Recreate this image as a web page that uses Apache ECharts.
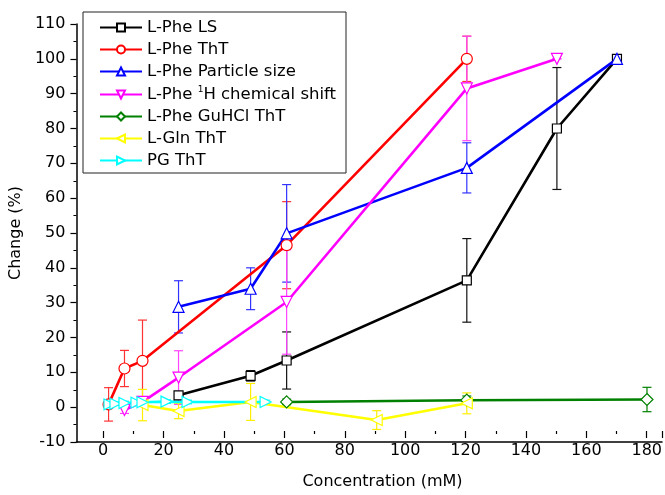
<!DOCTYPE html>
<html>
<head>
<meta charset="utf-8">
<script src="https://cdn.jsdelivr.net/npm/echarts@6/dist/echarts.min.js"></script>
<style>
  html, body { margin: 0; padding: 0; background: #fff; }
  #chart { width: 665px; height: 495px; }
</style>
</head>
<body>
<div id="chart"></div>
<script>
'use strict';

// [concentration mM, change %] and matching +/- errors
var lpheLS = [[24, 3.4], [48, 9.0], [60, 13.4], [120, 36.4], [150, 80.0], [170, 100]];
var lpheLSErr = [1.0, 1.5, 8.2, 12, 17.5, 0];

var lpheThT = [[0.7, 0.8], [6, 11.1], [12, 13.3], [60, 46.5], [120, 100]];
var lpheThTErr = [4.8, 5.2, 11.7, 12.5, 6.5];

var lpheSize = [[24, 28.8], [48, 34.0], [60, 49.9], [120, 68.7], [170, 100]];
var lpheSizeErr = [7.5, 6, 14, 7.2, 0];

var lpheShift = [[6, -0.8], [12, 1.5], [24, 8.5], [60, 30.2], [120, 91.5], [150, 100]];
var lpheShiftErr = [1, 1, 7.7, 15, 15, 0];

var guhclThT = [[60, 1.5], [120, 2.0], [180, 2.2]];
var guhclErr = [0.8, 1.2, 3.5];

var glnThT = [[12, 0.6], [24, -1.1], [48, 1.5], [90, -3.7], [120, 1.1]];
var glnErr = [4.5, 2.2, 5.3, 2.7, 3];

var pgThT = [[1, 0.8], [3, 1.0], [6, 1.2], [10, 1.3], [12, 1.4], [20, 1.6], [27, 1.5], [53, 1.5]];
var pgErr = [0.5, 0.5, 0.5, 0.5, 0.5, 0.5, 0.5, 0.5];

var legendNames = ['L-Phe LS', 'L-Phe ThT', 'L-Phe Particle size', 'L-Phe 1H chemical shift',
                   'L-Phe GuHCl ThT', 'L-Gln ThT', 'PG ThT'];

var font = 'DejaVu Sans';

// plot box: x from -10 to 185; second grid starts at x = 0 so the labelled ticks count from 0
var plotLeft = 73, plotRight = 3;
var plotW = 665 - plotLeft - plotRight;
var zeroLeft = plotLeft + plotW * 10 / 195;

function errData(pts, err) {
    return pts.map(function (p, i) { return [p[0], p[1] - err[i], p[1] + err[i]]; });
}

function errSeries(pts, err, color) {
    return {
        type: 'custom',
        z: 1,
        silent: true,
        data: errData(pts, err),
        encode: { x: 0, y: [1, 2] },
        renderItem: function (params, api) {
            var x = api.value(0);
            var lo = api.coord([x, api.value(1)]);
            var hi = api.coord([x, api.value(2)]);
            var w = 4.5;
            var st = { stroke: color, lineWidth: 1.2 };
            return {
                type: 'group',
                children: [
                    { type: 'line', shape: { x1: lo[0], y1: lo[1], x2: hi[0], y2: hi[1] }, style: st },
                    { type: 'line', shape: { x1: lo[0] - w, y1: lo[1], x2: lo[0] + w, y2: lo[1] }, style: st },
                    { type: 'line', shape: { x1: hi[0] - w, y1: hi[1], x2: hi[0] + w, y2: hi[1] }, style: st }
                ]
            };
        }
    };
}

function lineSeries(name, pts, color, symbol, rotate, size) {
    return {
        name: name,
        type: 'line',
        z: 3,
        data: pts,
        symbol: symbol,
        symbolSize: size || 10,
        symbolRotate: rotate || 0,
        showAllSymbol: true,
        lineStyle: { color: color, width: 2.6 },
        itemStyle: { color: '#fff', borderColor: color, borderWidth: 1.2 },
        emphasis: { disabled: true }
    };
}

var chart = echarts.init(document.getElementById('chart'));

var option = {
    animation: false,
    textStyle: { fontFamily: font },
    grid: [
        { left: plotLeft, right: plotRight, top: 24, bottom: 53 },
        { left: zeroLeft, right: plotRight, top: 24, bottom: 53 }
    ],
    legend: {
        orient: 'vertical',
        left: 83,
        top: 12,
        padding: [7, 10, 4, 16],
        borderColor: '#222',
        borderWidth: 1,
        itemWidth: 42,
        itemHeight: 10,
        itemGap: 5,
        textStyle: {
            fontFamily: font, fontSize: 16.5, color: '#000',
            rich: {
                sup: { fontSize: 9, fontFamily: font, color: '#000', padding: [0, 0, 10, 0] }
            }
        },
        formatter: function (name) {
            if (name === 'L-Phe 1H chemical shift') return 'L-Phe {sup|1}H chemical shift';
            return name;
        },
        data: legendNames
    },
    xAxis: [{
        type: 'value',
        gridIndex: 0,
        min: -10,
        max: 185,
        splitLine: { show: false },
        axisLine: { onZero: false, lineStyle: { color: '#000', width: 1.5 } },
        axisTick: { show: false },
        axisLabel: { show: false }
    }, {
        type: 'value',
        gridIndex: 1,
        min: 0,
        max: 185,
        interval: 20,
        name: 'Concentration (mM)',
        nameLocation: 'middle',
        nameGap: 43,
        nameTextStyle: { fontFamily: font, fontSize: 16, color: '#000' },
        splitLine: { show: false },
        axisLine: { show: false, onZero: false },
        axisTick: { inside: false, length: 7, lineStyle: { color: '#000', width: 1.2 } },
        minorTick: { show: true, splitNumber: 2, length: 3, lineStyle: { color: '#000', width: 1.2 } },
        axisLabel: {
            fontFamily: font, fontSize: 16, color: '#000', margin: 12,
            showMaxLabel: false
        }
    }],
    yAxis: [{
        type: 'value',
        gridIndex: 0,
        min: -10,
        max: 110,
        interval: 10,
        name: 'Change (%)',
        nameLocation: 'middle',
        nameGap: 44,
        nameTextStyle: { fontFamily: font, fontSize: 16, color: '#000' },
        splitLine: { show: false },
        axisLine: { onZero: false, lineStyle: { color: '#000', width: 1.5 } },
        axisTick: { inside: false, length: 6, lineStyle: { color: '#000', width: 1.2 } },
        minorTick: { show: true, splitNumber: 2, length: 3, lineStyle: { color: '#000', width: 1 } },
        axisLabel: { fontFamily: font, fontSize: 16, color: '#000', margin: 11 }
    }, {
        type: 'value',
        gridIndex: 1,
        min: -10,
        max: 110,
        show: false
    }],
    series: [
        errSeries(lpheLS, lpheLSErr, '#111'),
        errSeries(lpheThT, lpheThTErr, '#ff3333'),
        errSeries(lpheSize, lpheSizeErr, '#3333ff'),
        errSeries(lpheShift, lpheShiftErr, '#ff44ff'),
        errSeries(guhclThT, guhclErr, '#008000'),
        errSeries(glnThT, glnErr, '#ffee00'),
        errSeries(pgThT, pgErr, '#00eeee'),
        lineSeries('L-Phe LS', lpheLS, '#000000', 'rect', 0, 9),
        lineSeries('L-Phe ThT', lpheThT, '#ff0000', 'circle', 0, 11),
        lineSeries('L-Phe Particle size', lpheSize, '#0000ff', 'triangle', 0, 11),
        lineSeries('L-Phe 1H chemical shift', lpheShift, '#ff00ff', 'triangle', 180, 11),
        lineSeries('L-Phe GuHCl ThT', guhclThT, '#008000', 'diamond', 0, 12),
        lineSeries('L-Gln ThT', glnThT, '#ffff00', 'triangle', 90, 11),
        lineSeries('PG ThT', pgThT, '#00ffff', 'triangle', -90, 11)
    ]
};

chart.setOption(option);
</script>
</body>
</html>
